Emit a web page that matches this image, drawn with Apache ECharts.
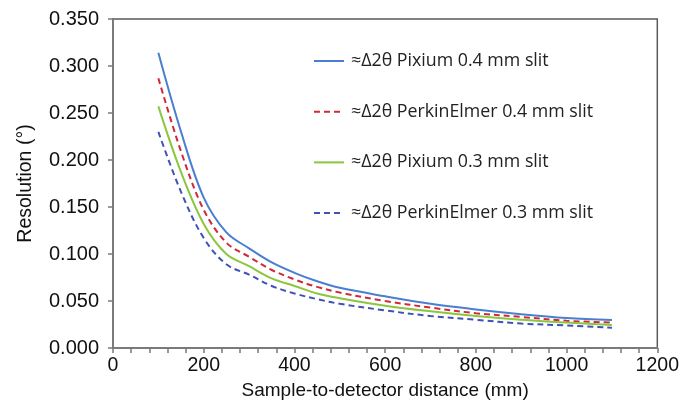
<!DOCTYPE html>
<html>
<head>
<meta charset="utf-8">
<script src="https://cdn.jsdelivr.net/npm/echarts@6/dist/echarts.min.js"></script>
<style>html,body{margin:0;padding:0;background:#fff;}#c{width:682px;height:405px;}</style>
</head>
<body>
<div id="c"></div>
<script>
var distances = [100, 150, 200, 250, 300, 350, 400, 450, 500, 600, 700, 800, 900, 1000, 1100];
var pixium04 = [0.314, 0.230, 0.160, 0.123, 0.106, 0.091, 0.080, 0.071, 0.064, 0.055, 0.047, 0.041, 0.036, 0.032, 0.0298];
var perkin04 = [0.287, 0.209, 0.147, 0.112, 0.097, 0.083, 0.073, 0.065, 0.059, 0.050, 0.043, 0.037, 0.033, 0.029, 0.027];
var pixium03 = [0.257, 0.187, 0.132, 0.100, 0.087, 0.074, 0.066, 0.058, 0.053, 0.045, 0.039, 0.034, 0.030, 0.027, 0.0245];
var perkin03 = [0.230, 0.166, 0.117, 0.089, 0.078, 0.066, 0.058, 0.052, 0.047, 0.040, 0.034, 0.030, 0.026, 0.024, 0.0216];
var seriesNames = ['≈Δ2θ Pixium 0.4 mm slit', '≈Δ2θ PerkinElmer 0.4 mm slit', '≈Δ2θ Pixium 0.3 mm slit', '≈Δ2θ PerkinElmer 0.3 mm slit'];
var xTitle = 'Sample-to-detector distance (mm)';
var yTitle = 'Resolution (°)';

function pairs(vals) { return distances.map(function (d, i) { return [d, vals[i]]; }); }

var chart = echarts.init(document.getElementById('c'), null, {renderer: 'canvas'});
var font = 'Liberation Sans, Arial, sans-serif';
var styles = [
  {color: '#4a7fd0', type: 'solid'},
  {color: '#cf2a36', type: [6, 4]},
  {color: '#8cc63f', type: 'solid'},
  {color: '#3f51b8', type: [6, 4]}
];
var allData = [pixium04, perkin04, pixium03, perkin03];
chart.setOption({
  animation: false,
  backgroundColor: '#fff',
  grid: {left: 113, right: 20, top: 19, bottom: 57, show: true, borderColor: '#5a5a5a', borderWidth: 1.5},
  legend: {
    orient: 'vertical', left: 308, top: 47, itemWidth: 30, itemHeight: 14, itemGap: 32.7,
    itemStyle: {opacity: 0},
    textStyle: {fontFamily: 'Open Sans', fontSize: 17.8, color: '#222', padding: [0, 0, 0, 2]},
    data: seriesNames
  },
  xAxis: {
    type: 'value', min: 0, max: 1200, interval: 200,
    name: xTitle, nameLocation: 'middle', nameGap: 27,
    nameTextStyle: {fontFamily: font, fontSize: 19, color: '#111'},
    axisLine: {lineStyle: {color: '#7a7a7a', width: 2}},
    axisTick: {show: true, length: 5, lineStyle: {color: '#7a7a7a', width: 1.5}},
    minorTick: {show: true, splitNumber: 5, length: 5, lineStyle: {color: '#7a7a7a', width: 1.5}},
    splitLine: {show: false},
    axisLabel: {fontFamily: font, fontSize: 19.5, color: '#111', margin: 8,
      formatter: function (v) { return String(v); }}
  },
  yAxis: {
    type: 'value', min: 0, max: 0.35, interval: 0.05,
    name: yTitle, nameLocation: 'middle', nameGap: 77, nameRotate: 90,
    nameTextStyle: {fontFamily: font, fontSize: 19.5, color: '#111'},
    axisLine: {show: true, lineStyle: {color: '#7a7a7a', width: 2}},
    axisTick: {show: true, length: 5, lineStyle: {color: '#7a7a7a', width: 1.5}},
    splitLine: {show: false},
    axisLabel: {fontFamily: font, fontSize: 20, color: '#111', margin: 14,
      formatter: function (v) { return v.toFixed(3); }}
  },
  series: seriesNames.map(function (n, i) {
    return {
      name: n, type: 'line', data: pairs(allData[i]), smooth: 0.35, symbol: 'none',
      lineStyle: {color: styles[i].color, width: 2, type: styles[i].type},
      itemStyle: {color: styles[i].color}
    };
  })
});
</script>
</body>
</html>
